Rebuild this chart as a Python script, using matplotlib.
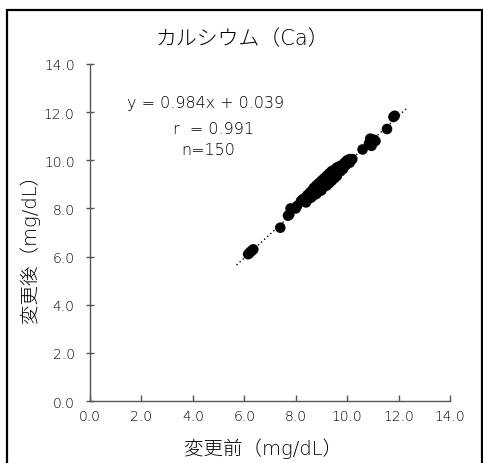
import matplotlib
matplotlib.use('Agg')
import matplotlib.pyplot as plt
from matplotlib.patches import Rectangle

plt.rcParams['font.family'] = ['DejaVu Sans', 'Noto Sans CJK JP']

# 変更前 / 変更後 (mg/dL)
x_before = [6.15, 6.2, 6.3, 6.35, 6.25,
            7.4, 7.7, 7.75, 7.8, 8.0, 8.05,
            8.2, 8.3, 8.35, 8.25, 8.4,
            8.45, 8.5, 8.55, 8.6, 8.65, 8.7, 8.7, 8.75, 8.8, 8.8,
            8.85, 8.9, 8.9, 8.95, 9.0, 9.0, 9.05, 9.1, 9.1, 9.15,
            9.2, 9.2, 9.25, 9.3, 9.3, 9.35, 9.4, 9.4, 9.45, 9.5,
            9.5, 9.55, 9.6, 9.6, 9.65, 9.7, 9.75, 9.8, 9.85, 9.9,
            8.6, 8.8, 9.0, 9.2, 9.4, 9.6, 9.8, 8.9, 9.1, 9.3,
            9.95, 10.0, 10.05, 10.1, 10.15, 10.2, 10.1,
            10.6, 10.85, 10.9, 11.0, 11.05, 10.95, 11.1,
            11.55, 11.8, 11.85]
y_after = [6.1, 6.15, 6.25, 6.3, 6.2,
           7.2, 7.7, 7.75, 8.0, 8.0, 8.1,
           8.3, 8.4, 8.3, 8.35, 8.25,
           8.55, 8.4, 8.65, 8.45, 8.75, 8.55, 8.85, 8.65, 8.95, 8.6,
           8.85, 8.7, 9.05, 8.9, 8.75, 9.15, 9.0, 8.9, 9.25, 9.1,
           8.95, 9.35, 9.1, 9.45, 9.05, 9.3, 9.55, 9.15, 9.35, 9.6,
           9.25, 9.45, 9.7, 9.35, 9.55, 9.75, 9.55, 9.8, 9.65, 9.9,
           8.7, 8.85, 9.1, 9.3, 9.4, 9.55, 9.7, 9.0, 9.05, 9.25,
           9.8, 10.0, 9.95, 10.05, 10.0, 10.05, 9.9,
           10.45, 10.7, 10.9, 10.75, 10.85, 10.6, 10.8,
           11.3, 11.8, 11.85]

slope = 0.984
intercept = 0.039
r_value = 0.991
n_count = 150
trend_x = [5.7, 12.3]

ticks = [0, 2, 4, 6, 8, 10, 12, 14]
tick_labels = ['0.0', '2.0', '4.0', '6.0', '8.0', '10.0', '12.0', '14.0']

W, H = 483, 464
fig = plt.figure(figsize=(W / 100, H / 100), dpi=100)
ax = fig.add_axes([90 / W, 1 - 402 / H, 360 / W, 337 / H])

txt_color = 'black'
spine_color = '#555555'

# 回帰直線 (点線)
trend_y = [slope * v + intercept for v in trend_x]
ax.plot(trend_x, trend_y, linestyle=(0, (1, 2)), color='black', linewidth=1.0, zorder=2)
ax.scatter(x_before, y_after, s=58, color='black', edgecolors='none', zorder=3)

ax.set_xlim(0, 14)
ax.set_ylim(0, 14)
ax.set_xticks(ticks)
ax.set_xticklabels(tick_labels)
ax.set_yticks(ticks)
ax.set_yticklabels(tick_labels)
for s in ['top', 'right']:
    ax.spines[s].set_visible(False)
for s in ['left', 'bottom']:
    ax.spines[s].set_color(spine_color)
    ax.spines[s].set_linewidth(1.0)
ax.tick_params(axis='x', direction='in', length=4, width=1, color=spine_color,
               labelsize=10, labelcolor=txt_color, pad=6)
ax.tick_params(axis='y', direction='inout', length=6, width=1, color=spine_color,
               labelsize=10, labelcolor=txt_color, pad=8)
for lab in ax.get_xticklabels() + ax.get_yticklabels():
    lab.set_fontweight('light')

# 回帰式
eq_x = 4.5
ax.text(eq_x, 12.38, f'y = {slope:.3f}x + {intercept:.3f}', ha='center', va='center',
        fontsize=11.5, color=txt_color, fontweight='light')
ax.text(eq_x + 0.3, 11.3, f'r  = {r_value:.3f}', ha='center', va='center',
        fontsize=11.5, color=txt_color, fontweight='light')
ax.text(eq_x + 0.1, 10.43, f'n={n_count}', ha='center', va='center',
        fontsize=11.5, color=txt_color, fontweight='light')

fig.text(242 / W, 1 - 39 / H, 'カルシウム（Ca）', ha='center', va='center',
         fontsize=15, color=txt_color, fontweight='light')
fig.text(263 / W, 1 - 449 / H, '変更前（mg/dL）', ha='center', va='center',
         fontsize=14, color=txt_color, fontweight='light')
fig.text(30 / W, 1 - 244 / H, '変更後（mg/dL）', ha='center', va='center',
         rotation=90, fontsize=14, color=txt_color, fontweight='light')

# 外枠
fig.patches.append(Rectangle((7 / W, -0.02), 475 / W, 1.02 - 11 / H,
                             transform=fig.transFigure, fill=False,
                             edgecolor='black', linewidth=1.6))

plt.savefig('out.png', dpi=100)
